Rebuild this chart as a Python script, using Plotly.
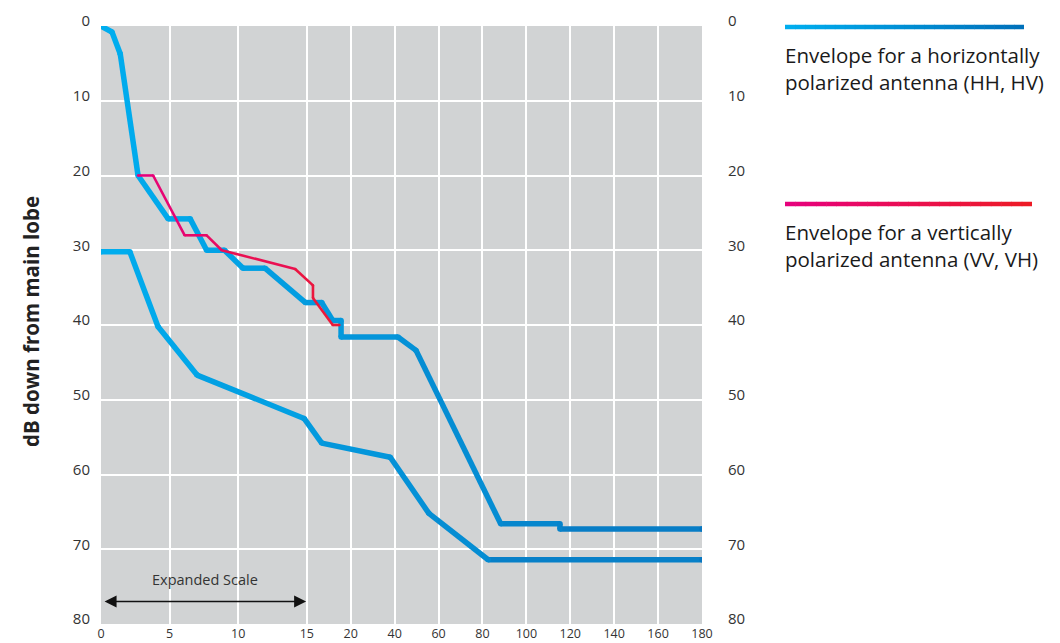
import plotly.graph_objects as go

# ---------------- data (angle in degrees, level in dB down) ----------------
x_ticks = [0, 5, 10, 15, 20, 40, 60, 80, 100, 120, 140, 160, 180]
x_tick_labels = [str(v) for v in x_ticks]
y_ticks = [0, 10, 20, 30, 40, 50, 60, 70, 80]

hh_upper_deg = [0, 0.8, 1.4, 2.7, 4.9, 6.5, 7.7, 9.0, 10.35, 11.95, 14.9, 16.7, 17.95,
                18.9, 18.9, 41.5, 49.75, 88.3, 115.3, 115.3, 180]
hh_upper_db = [0, 0.8, 3.7, 20, 25.8, 25.8, 30, 30, 32.4, 32.4, 37, 37, 39.4,
               39.4, 41.6, 41.6, 43.4, 66.6, 66.6, 67.3, 67.3]

hh_lower_deg = [0, 2.1, 4.15, 7.0, 14.8, 16.7, 38, 55.6, 82.6, 180]
hh_lower_db = [30.2, 30.2, 40.2, 46.7, 52.5, 55.8, 57.7, 65.2, 71.4, 71.4]

vv_deg = [2.7, 3.8, 6.1, 7.7, 8.8, 14.15, 15.7, 15.7, 17.95, 18.7]
vv_db = [20, 20, 28, 28, 30, 32.5, 34.7, 36.4, 40.0, 40.0]

legend_hh = ["Envelope for a horizontally", "polarized antenna (HH, HV)"]
legend_vv = ["Envelope for a vertically", "polarized antenna (VV, VH)"]

# ---------------- broken (expanded) angle scale ----------------
K = 3.2  # width of one 20-degree block in "expanded degree" units


def pos(a):
    if a <= 15:
        return a
    if a <= 20:
        return 15 + (a - 15) / 5 * K
    return 15 + K + (a - 20) / 20 * K


U_MAX = pos(180)


def lerp(c0, c1, t):
    t = max(0.0, min(1.0, t))
    return "rgb(%d,%d,%d)" % tuple(round(a + (b - a) * t) for a, b in zip(c0, c1))


BLUE0, BLUE1 = (0, 174, 239), (8, 118, 192)
RED0, RED1 = (230, 0, 126), (236, 26, 52)

fig = go.Figure()


def gradient_line(xd, yd, width, c0, c1, t_of_u, yaxis="y"):
    us = [pos(a) for a in xd]
    for i in range(len(us) - 1):
        tm = t_of_u((us[i] + us[i + 1]) / 2)
        fig.add_trace(go.Scatter(x=[us[i], us[i + 1]], y=[yd[i], yd[i + 1]], mode="lines",
                                 line=dict(color=lerp(c0, c1, tm), width=width),
                                 hoverinfo="skip", showlegend=False, yaxis=yaxis))
    fig.add_trace(go.Scatter(x=us, y=yd, mode="markers",
                             marker=dict(size=width, color=[lerp(c0, c1, t_of_u(u)) for u in us],
                                         line=dict(width=0)),
                             hoverinfo="skip", showlegend=False, yaxis=yaxis))


gradient_line(hh_upper_deg, hh_upper_db, 5.5, BLUE0, BLUE1, lambda u: u / U_MAX)
u0, u1 = pos(vv_deg[0]), pos(vv_deg[-1])
gradient_line(vv_deg, vv_db, 2.6, RED0, RED1, lambda u: (u - u0) / (u1 - u0))
gradient_line(hh_lower_deg, hh_lower_db, 5.5, BLUE0, BLUE1, lambda u: u / U_MAX, yaxis="y2")

# ---------------- layout ----------------
font_family = "Open Sans, Noto Sans, sans-serif"
tick_font = dict(family=font_family, size=15, color="#333333")

fig.update_layout(
    width=1052, height=635,
    margin=dict(l=93, r=358, t=18, b=19),
    paper_bgcolor="white", plot_bgcolor="#D1D3D4",
    font=dict(family=font_family, color="#222222"),
    xaxis=dict(range=[0, U_MAX], tickvals=[pos(v) for v in x_ticks], ticktext=x_tick_labels,
               showgrid=True, gridcolor="white", gridwidth=2, zeroline=False, showline=False,
               ticks="", tickfont=dict(family=font_family, size=12.5, color="#333333"),
               ticklabelstandoff=0, automargin=False),
    yaxis=dict(range=[80, 0], tickvals=y_ticks, showgrid=True, gridcolor="white", gridwidth=2,
               zeroline=False, showline=False, ticks="", tickfont=tick_font,
               ticklabelstandoff=10, ticklabelshift=5, automargin=False),
    yaxis2=dict(range=[80, 0], tickvals=y_ticks, overlaying="y", side="right", showgrid=False,
                zeroline=False, showline=False, ticks="", tickfont=tick_font,
                ticklabelstandoff=25, ticklabelshift=5, automargin=False),
)


# helpers: screen pixel -> paper coords (plot area spans x 101..702, y 26..624 on screen)
def px_x(p):
    return (p - 101) / 601


def px_y(p):
    return (624 - p) / 598


# y-axis title
fig.add_annotation(xref="paper", yref="paper", x=px_x(31), y=px_y(322), xanchor="center",
                   yanchor="middle", text="<b>dB down from main lobe</b>", textangle=-90,
                   showarrow=False, font=dict(family=font_family, size=20.5, color="#222222"))

# expanded-scale marker
fig.add_annotation(xref="x", yref="y", x=pos(7.55), y=74, text="Expanded Scale",
                   showarrow=False, font=dict(family=font_family, size=14.5, color="#333333"))
fig.add_annotation(xref="x", yref="y", axref="x", ayref="y",
                   x=pos(14.95), y=77, ax=pos(0.15), ay=77, text="",
                   showarrow=True, arrowside="end+start", arrowhead=2, arrowsize=1.6,
                   arrowwidth=1.5, arrowcolor="#111111", standoff=0, startstandoff=0)


def legend_bar(x0, x1, y, c0, c1, n=24):
    for i in range(n):
        a = x0 + (x1 - x0) * i / n
        b = x0 + (x1 - x0) * (i + 1) / n + 0.6
        fig.add_shape(type="line", xref="paper", yref="paper",
                      x0=px_x(a), x1=px_x(min(b, x1)), y0=px_y(y), y1=px_y(y),
                      line=dict(color=lerp(c0, c1, (i + 0.5) / n), width=4.5))


def legend_text(lines, y_center):
    fig.add_annotation(xref="paper", yref="paper", x=px_x(783), y=px_y(y_center),
                       xanchor="left", yanchor="middle", align="left",
                       text="<br>".join(lines), showarrow=False,
                       font=dict(family=font_family, size=20.5, color="#1a1a1a"))


legend_bar(785, 1024, 27, BLUE0, (0, 112, 186))
legend_bar(785, 1032, 204, RED0, (237, 28, 36))
legend_text(legend_hh, 68.5)
legend_text(legend_vv, 245.5)

fig.write_html("out.html")
